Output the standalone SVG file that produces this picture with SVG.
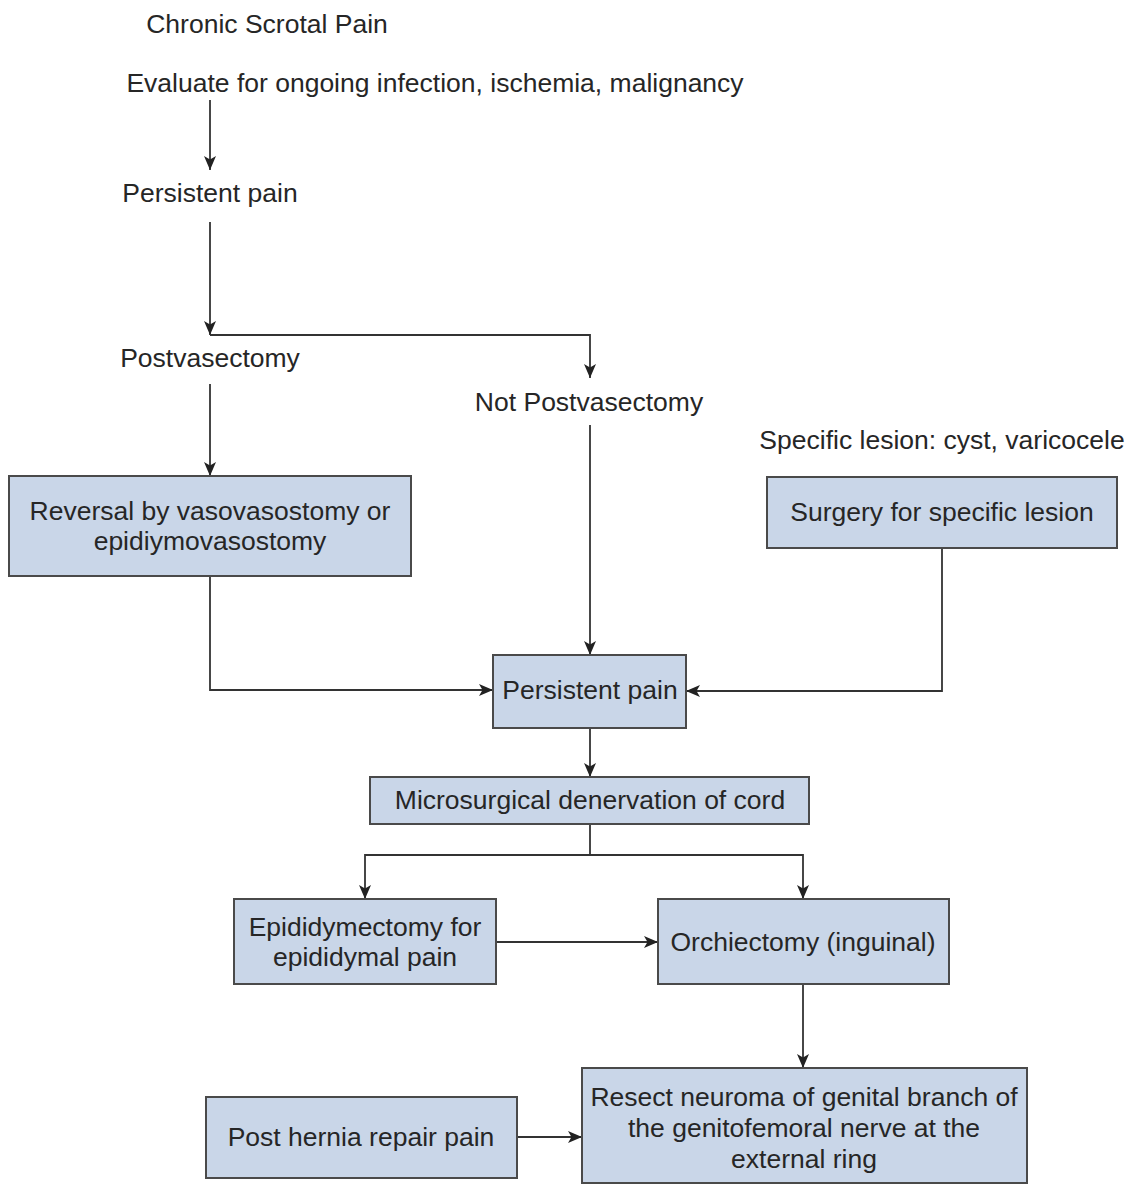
<svg xmlns="http://www.w3.org/2000/svg" width="1130" height="1186" viewBox="0 0 1130 1186">
<style>
text{font-family:"Liberation Sans",Arial,sans-serif;font-size:26.5px;fill:#262626;text-anchor:middle}
.box{fill:#c9d6e8;stroke:#4a4a4a;stroke-width:2}
.c{fill:none;stroke:#333;stroke-width:1.8}
</style>
<defs>
<marker id="a" viewBox="0 0 14 12" refX="14" refY="6" markerWidth="14" markerHeight="12" orient="auto" markerUnits="userSpaceOnUse">
<path d="M0,0 L14,6 L0,12 L3.5,6 z" fill="#222"/>
</marker>
</defs>
<rect width="1130" height="1186" fill="#fff"/>
<g id="connectors">
<path class="c" d="M210,100 V170" marker-end="url(#a)"/>
<path class="c" d="M210,222 V335" marker-end="url(#a)"/>
<path class="c" d="M210,335 H590 V378" marker-end="url(#a)"/>
<path class="c" d="M210,384 V476" marker-end="url(#a)"/>
<path class="c" d="M590,425 V655" marker-end="url(#a)"/>
<path class="c" d="M210,576 V690 H493" marker-end="url(#a)"/>
<path class="c" d="M942,548 V691 H686" marker-end="url(#a)"/>
<path class="c" d="M590,728 V777" marker-end="url(#a)"/>
<path class="c" d="M590,824 V855"/>
<path class="c" d="M590,855 H365 V899" marker-end="url(#a)"/>
<path class="c" d="M590,855 H803 V899" marker-end="url(#a)"/>
<path class="c" d="M496,942 H658" marker-end="url(#a)"/>
<path class="c" d="M803,984 V1068" marker-end="url(#a)"/>
<path class="c" d="M517,1137 H582" marker-end="url(#a)"/>
</g>
<g id="n-chronic"><text x="267" y="33">Chronic Scrotal Pain</text></g>
<g id="n-evaluate"><text x="435" y="92">Evaluate for ongoing infection, ischemia, malignancy</text></g>
<g id="n-persistent1"><text x="210" y="202">Persistent pain</text></g>
<g id="n-postvas"><text x="210" y="367">Postvasectomy</text></g>
<g id="n-notpostvas"><text x="589" y="411">Not Postvasectomy</text></g>
<g id="n-specific"><text x="942" y="449">Specific lesion: cyst, varicocele</text></g>
<g id="n-reversal"><rect class="box" x="9" y="476" width="402" height="100"/><text x="210" y="520">Reversal by vasovasostomy or</text><text x="210" y="550">epidiymovasostomy</text></g>
<g id="n-surgery"><rect class="box" x="767" y="477" width="350" height="71"/><text x="942" y="521">Surgery for specific lesion</text></g>
<g id="n-persistent2"><rect class="box" x="493" y="655" width="193" height="73"/><text x="590" y="699">Persistent pain</text></g>
<g id="n-micro"><rect class="box" x="370" y="777" width="439" height="47"/><text x="590" y="809">Microsurgical denervation of cord</text></g>
<g id="n-epid"><rect class="box" x="234" y="899" width="262" height="85"/><text x="365" y="936">Epididymectomy for</text><text x="365" y="966">epididymal pain</text></g>
<g id="n-orch"><rect class="box" x="658" y="899" width="291" height="85"/><text x="803" y="951">Orchiectomy (inguinal)</text></g>
<g id="n-hernia"><rect class="box" x="206" y="1097" width="311" height="81"/><text x="361" y="1146">Post hernia repair pain</text></g>
<g id="n-resect"><rect class="box" x="582" y="1068" width="445" height="115"/><text x="804" y="1106">Resect neuroma of genital branch of</text><text x="804" y="1137">the genitofemoral nerve at the</text><text x="804" y="1168">external ring</text></g>
</svg>
